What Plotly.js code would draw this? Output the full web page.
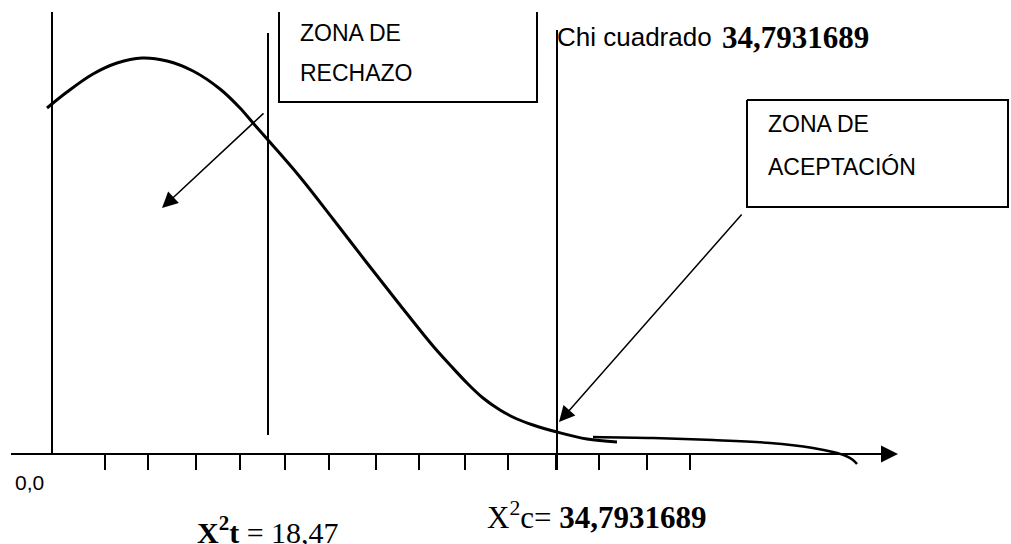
<!DOCTYPE html>
<html><head><meta charset="utf-8">
<script src="https://cdn.plot.ly/plotly-3.0.1.min.js"></script>
<style>html,body{margin:0;padding:0;background:#fff;} #chart{width:1011px;height:544px;}</style>
</head><body><div id="chart"></div>
<script>
// Diagram units: x along the horizontal axis, y = height above the horizontal axis
const curveX = [47, 67, 93, 117, 142, 167, 193, 220, 240, 253, 268, 300, 333, 367, 400, 433, 451, 467, 483, 500, 517, 533, 557, 587, 617];
const curveY = [346, 362, 380, 391, 396, 393, 383, 365, 346, 331, 314, 277, 235, 191, 149, 108, 88, 71, 56, 44, 35, 29, 22, 15, 12];
const tailX = [593, 653, 713, 770, 813, 833, 846, 853, 857];
const tailY = [17, 16, 14, 11, 6, 2, -2, -6, -10];
const tickX = [105, 148, 196, 240, 285, 329, 376, 419, 465, 508, 556, 599, 647, 690];
const tickLow = -16;
const vLineX = [52, 268, 557];
const vLineBottom = [0, 19, -16];
const vLineTop = [442, 421, 424];
const boxRechazoX = [279, 279, 537, 537];
const boxRechazoY = [442, 352, 352, 442];
const boxAceptX = [747, 1008, 1008, 747, 747];
const boxAceptY = [354, 354, 247, 247, 354];
const axisStartX = 11, axisTipX = 898;
const arrowFromX = [265, 743];
const arrowFromY = [342, 241];
const arrowToX = [162, 559];
const arrowToY = [246, 32];
const boxTexts = ['ZONA DE', 'RECHAZO', 'ZONA DE', 'ACEPTACIÓN'];
const boxTextX = [299, 299, 767, 767];
const boxTextY = [421, 381, 330, 287];
const chiLabel = 'Chi cuadrado';
const chiValue = '34,7931689';
const originLabel = '0,0';
const x2tLabel = '<b>X<sup>2</sup>t</b> = 18,47';
const x2cLabel = 'X<sup>2</sup>c= <b>34,7931689</b>';

const SANS = 'Liberation Sans, Arial, sans-serif';
const SERIF = 'Liberation Serif, Times New Roman, serif';
const K = '#000';

const traces = [];
function line(xs, ys, w, shape) {
  traces.push({x: xs, y: ys, type: 'scatter', mode: 'lines',
    line: {color: K, width: w, shape: shape || 'linear', smoothing: 1},
    hoverinfo: 'skip', showlegend: false});
}
line(curveX, curveY, 3, 'spline');
line(tailX, tailY, 2.5, 'spline');
vLineX.forEach((x, i) => line([x, x], [vLineBottom[i], vLineTop[i]], 2));
line(boxRechazoX, boxRechazoY, 2);
line(boxAceptX, boxAceptY, 2);
line([axisStartX, axisTipX - 14], [0, 0], 2);
tickX.forEach(x => line([x, x], [0, tickLow], 2));

const annotations = [];
arrowToX.forEach((x, i) => annotations.push({
  x: x, y: arrowToY[i], ax: arrowFromX[i], ay: arrowFromY[i], axref: 'x', ayref: 'y', xref: 'x', yref: 'y',
  text: '', showarrow: true, arrowhead: 2, arrowsize: 2.1, arrowwidth: 1.5, arrowcolor: K, standoff: 0
}));
annotations.push({x: axisTipX, y: 0, ax: axisTipX - 40, ay: 0, axref: 'x', ayref: 'y', xref: 'x', yref: 'y',
  text: '', showarrow: true, arrowhead: 2, arrowsize: 1.7, arrowwidth: 2, arrowcolor: K, standoff: 0});
function label(text, x, y, size, family) {
  annotations.push({x: x, y: y, xref: 'x', yref: 'y', text: text, showarrow: false, xanchor: 'left', yanchor: 'middle',
    font: {family: family, size: size, color: K}, borderpad: 0});
}
boxTexts.forEach((t, i) => label(t, boxTextX[i], boxTextY[i], 23, SANS));
label(chiLabel, 556, 417, 26, SANS);
label('<b>' + chiValue + '</b>', 721, 417, 31, SERIF);
label(originLabel, 14, -28, 21, SANS);
label(x2tLabel, 196, -76, 30, SERIF);
label(x2cLabel, 486, -61, 31, SERIF);

const layout = {
  width: 1011, height: 544, margin: {l: 0, r: 0, t: 0, b: 0},
  paper_bgcolor: '#fff', plot_bgcolor: '#fff',
  xaxis: {range: [0, 1011], visible: false, fixedrange: true},
  yaxis: {range: [-90, 454], visible: false, fixedrange: true},
  annotations: annotations, showlegend: false
};
Plotly.newPlot('chart', traces, layout, {staticPlot: true, displayModeBar: false});
</script></body></html>
